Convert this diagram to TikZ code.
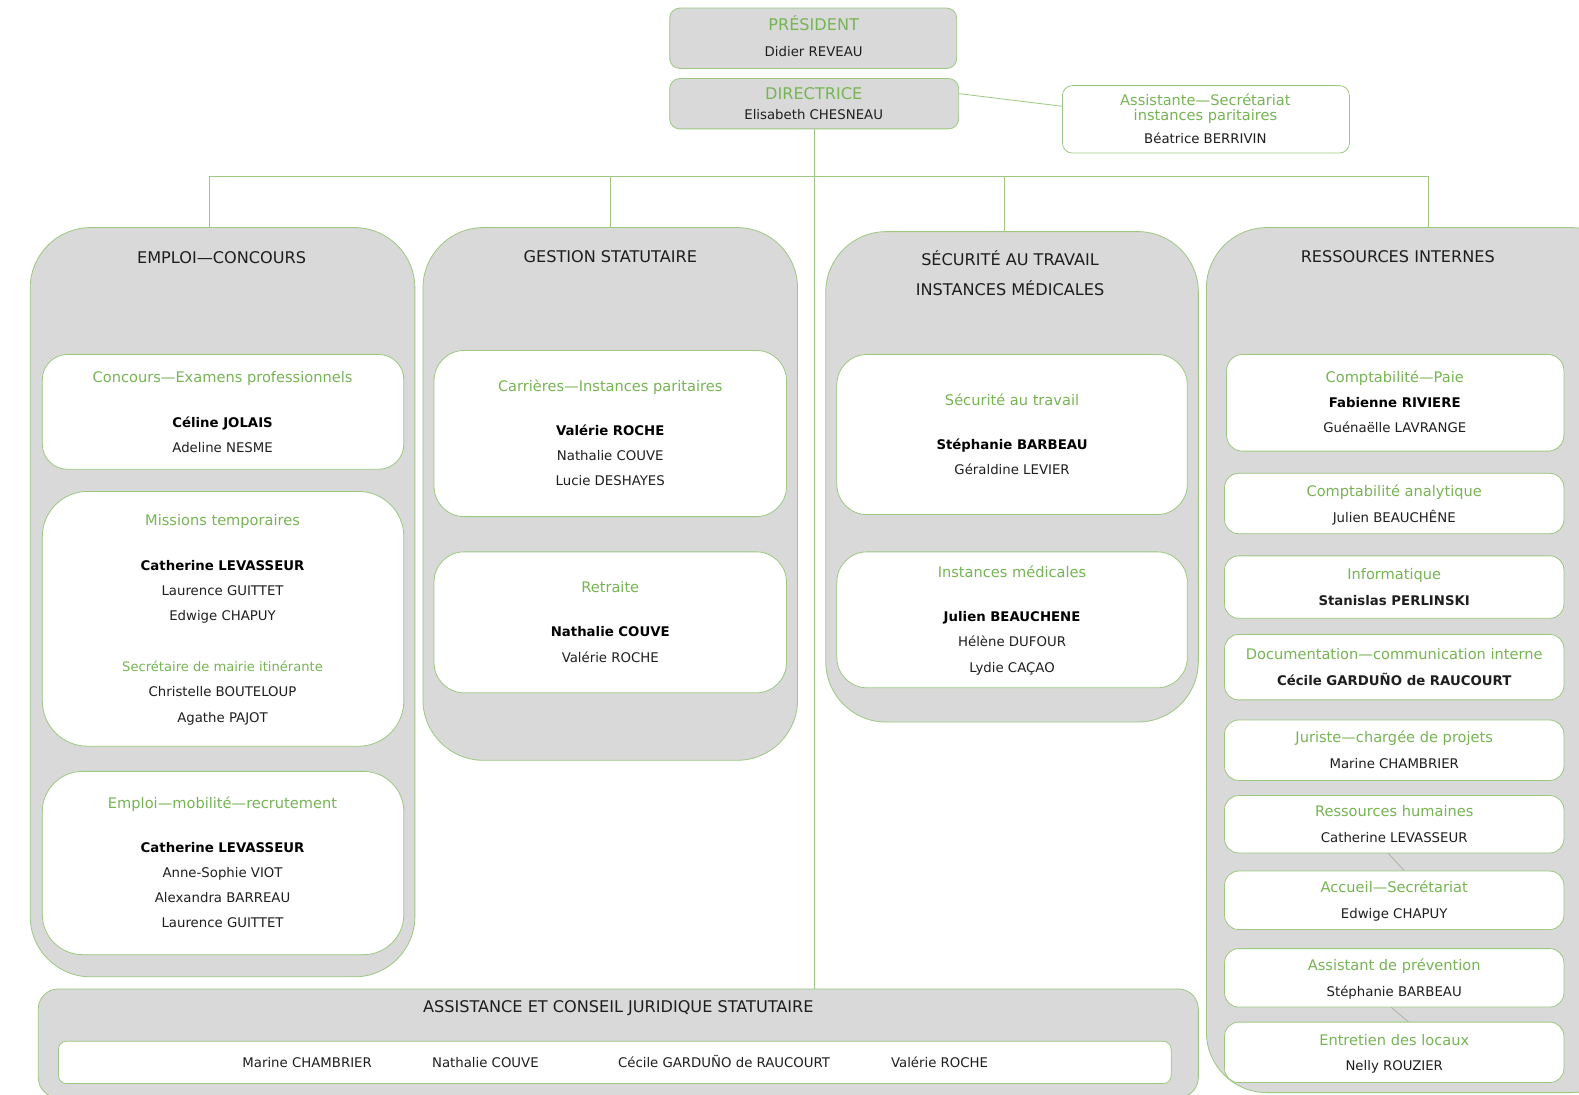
\documentclass[tikz,border=0pt]{standalone}
\usepackage{fontspec}
\setmainfont{DejaVu Sans}
\usetikzlibrary{fit}

\begin{document}
\begin{tikzpicture}[x=1pt,y=-1pt,line width=0.8pt]
\definecolor{leaf}{RGB}{118,180,84}
\definecolor{rim}{RGB}{156,200,128}
\definecolor{panel}{RGB}{217,217,217}
\definecolor{ink}{RGB}{30,30,30}
\definecolor{seam}{RGB}{170,182,165}

\tikzset{
  panelbox/.style={draw=rim,fill=panel,rounded corners=#1,inner sep=0pt},
  unitbox/.style={draw=rim,fill=white,rounded corners=#1,inner sep=0pt},
  head/.style={text=leaf,font=\fontsize{14.5}{17}\selectfont,
    text height=10.5pt,text depth=3pt,inner sep=0pt,yshift=-2pt},
  subhead/.style={head,font=\fontsize{13}{16}\selectfont},
  who/.style={text=ink,font=\fontsize{13.2}{16}\selectfont,
    text height=9.5pt,text depth=2.7pt,inner sep=0pt,yshift=-2pt},
  chief/.style={who,text=black,font=\fontsize{13.2}{16}\selectfont\bfseries},
  dept/.style={text=ink,font=\fontsize{16}{19}\selectfont,
    text height=11.5pt,text depth=3.3pt,inner sep=0pt,yshift=-2pt},
  link/.style={draw=rim},
}

\useasboundingbox (0,0) rectangle (1568,1087);
\clip (0,0) rectangle (1568,1087);

% Top: president, director and her assistant.
\node[panelbox=10pt,fit={(665,8) (950,68)}] (pres) {};
\node[head,font=\fontsize{16}{19}\selectfont] (pres-t) at (808,25) {PRÉSIDENT};
\node[who] (pres-n) at (808,51) {Didier REVEAU};

\node[panelbox=10pt,fit={(665,78) (952,128)}] (dir) {};
\node[head,font=\fontsize{16}{19}\selectfont] (dir-t) at (808,93) {DIRECTRICE};
\node[who] (dir-n) at (808,113) {Elisabeth CHESNEAU};

\node[unitbox=10pt,fit={(1055,85) (1340,152)}] (asst) {};
\node[head] (asst-t1) at (1197,99) {Assistante—Secrétariat};
\node[head] (asst-t2) at (1197,114) {instances paritaires};
\node[who] (asst-n) at (1197,137) {Béatrice BERRIVIN};

% Column 1: emploi - concours.
\node[panelbox=60pt,fit={(30,226) (412,970)}] (emp) {};
\node[dept] (emp-t) at (220,256) {EMPLOI—CONCOURS};

\node[unitbox=25pt,fit={(42,352) (401,466)}] (e1) {};
\node[head] (e1-t) at (221,374) {Concours—Examens professionnels};
\node[chief] (e1-n1) at (221,419) {Céline JOLAIS};
\node[who] (e1-n2) at (221,444) {Adeline NESME};

\node[unitbox=45pt,fit={(42,488) (401,741)}] (e2) {};
\node[head] (e2-t) at (221,516) {Missions temporaires};
\node[chief] (e2-n1) at (221,561) {Catherine LEVASSEUR};
\node[who] (e2-n2) at (221,586) {Laurence GUITTET};
\node[who] (e2-n3) at (221,611) {Edwige CHAPUY};
\node[subhead] (e2-s) at (221,661) {Secrétaire de mairie itinérante};
\node[who] (e2-n4) at (221,686) {Christelle BOUTELOUP};
\node[who] (e2-n5) at (221,712) {Agathe PAJOT};

\node[unitbox=40pt,fit={(42,766) (401,948)}] (e3) {};
\node[head] (e3-t) at (221,797) {Emploi—mobilité—recrutement};
\node[chief] (e3-n1) at (221,841) {Catherine LEVASSEUR};
\node[who] (e3-n2) at (221,866) {Anne-Sophie VIOT};
\node[who] (e3-n3) at (221,891) {Alexandra BARREAU};
\node[who] (e3-n4) at (221,916) {Laurence GUITTET};

% Column 2: gestion statutaire.
\node[panelbox=60pt,fit={(420,226) (792,755)}] (gest) {};
\node[dept] (gest-t) at (606,255) {GESTION STATUTAIRE};

\node[unitbox=30pt,fit={(431,348) (781,513)}] (g1) {};
\node[head] (g1-t) at (606,383) {Carrières—Instances paritaires};
\node[chief] (g1-n1) at (606,427) {Valérie ROCHE};
\node[who] (g1-n2) at (606,452) {Nathalie COUVE};
\node[who] (g1-n3) at (606,477) {Lucie DESHAYES};

\node[unitbox=30pt,fit={(431,548) (781,688)}] (g2) {};
\node[head] (g2-t) at (606,583) {Retraite};
\node[chief] (g2-n1) at (606,627) {Nathalie COUVE};
\node[who] (g2-n2) at (606,652) {Valérie ROCHE};

% Column 3: securite - instances medicales.
\node[panelbox=60pt,fit={(820,230) (1190,717)}] (secu) {};
\node[dept] (secu-t1) at (1003,258) {SÉCURITÉ AU TRAVAIL};
\node[dept] (secu-t2) at (1003,287) {INSTANCES MÉDICALES};

\node[unitbox=30pt,fit={(831,352) (1179,511)}] (s1) {};
\node[head] (s1-t) at (1005,397) {Sécurité au travail};
\node[chief] (s1-n1) at (1005,441) {Stéphanie BARBEAU};
\node[who] (s1-n2) at (1005,466) {Géraldine LEVIER};

\node[unitbox=30pt,fit={(831,548) (1179,683)}] (s2) {};
\node[head] (s2-t) at (1005,568) {Instances médicales};
\node[chief] (s2-n1) at (1005,612) {Julien BEAUCHENE};
\node[who] (s2-n2) at (1005,637) {Hélène DUFOUR};
\node[who] (s2-n3) at (1005,662) {Lydie CAÇAO};

% Column 4: ressources internes.
\node[panelbox=60pt,fit={(1198,226) (1620,1085)}] (ress) {};
\node[dept] (ress-t) at (1388,255) {RESSOURCES INTERNES};

\node[unitbox=16pt,fit={(1218,352) (1553,448)}] (r1) {};
\node[head] (r1-t) at (1385,374) {Comptabilité—Paie};
\node[chief] (r1-n1) at (1385,399) {Fabienne RIVIERE};
\node[who] (r1-n2) at (1385,424) {Guénaëlle LAVRANGE};

\foreach \i/\ya/\yb/\hd/\nm in {
    2/470/530/{Comptabilité analytique}/{Julien BEAUCHÊNE},
    3/552/614/{Informatique}/{\textbf{Stanislas PERLINSKI}},
    4/630/695/{Documentation—communication interne}/{\textbf{Cécile GARDUÑO de RAUCOURT}},
    5/715/775/{Juriste—chargée de projets}/{Marine CHAMBRIER},
    6/790/847/{Ressources humaines}/{Catherine LEVASSEUR},
    7/865/923/{Accueil—Secrétariat}/{Edwige CHAPUY},
    8/942/1000/{Assistant de prévention}/{Stéphanie BARBEAU},
    9/1015/1075/{Entretien des locaux}/{Nelly ROUZIER}}{
  \node[unitbox=14pt,fit={(1216,\ya) (1553,\yb)}] (r\i) {};
  \node[head] (r\i-t) at ([yshift=13pt]r\i.center) {\hd};
  \node[who] (r\i-n) at ([yshift=-13pt]r\i.center) {\nm};
}

\draw[seam] ([xshift=-6pt]r6.south) -- ([xshift=10pt]r7.north);
\draw[seam] ([xshift=-3pt]r8.south) -- ([xshift=14pt]r9.north);

% Bottom: assistance et conseil juridique.
\node[panelbox=20pt,fit={(38,982) (1190,1090)}] (ajs) {};
\node[dept] (ajs-t) at (614,999) {ASSISTANCE ET CONSEIL JURIDIQUE STATUTAIRE};
\node[unitbox=8pt,fit={(58,1034) (1163,1076)}] (ajs-in) {};
\node[who] (ajs-n1) at (305,1055) {Marine CHAMBRIER};
\node[who] (ajs-n2) at (482,1055) {Nathalie COUVE};
\node[who] (ajs-n3) at (719,1055) {Cécile GARDUÑO de RAUCOURT};
\node[who] (ajs-n4) at (933,1055) {Valérie ROCHE};

% Connectors.
\coordinate (busL) at (208,175);
\coordinate (busM) at (997,175);
\coordinate (busR) at (1418,175);
\draw[link] ([yshift=10pt]dir.east) -- ([yshift=13pt]asst.west);
\draw[link] (dir.south) -- (dir.south |- ajs.north);
\draw[link] (busL) -- (busR);
\draw[link] (busL) -- (busL |- emp.north);
\draw[link] (gest.north |- busL) -- (gest.north);
\draw[link] (busM) -- (busM |- secu.north);
\draw[link] (busR) -- (busR |- ress.north);
\end{tikzpicture}
\end{document}
